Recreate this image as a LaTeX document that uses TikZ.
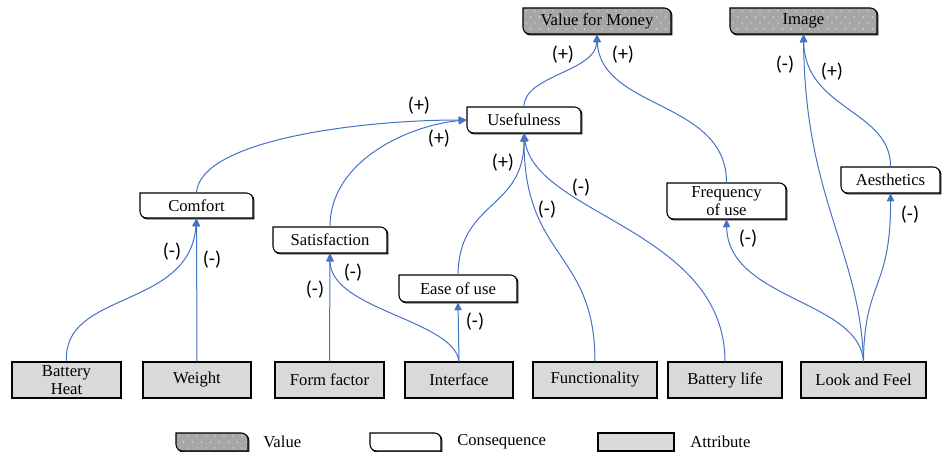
\documentclass[tikz,border=0pt]{standalone}
\usepackage{fontspec}
\setmainfont{Liberation Serif}
\newfontfamily\labfont{Carlito}
\usetikzlibrary{arrows.meta}
\definecolor{linkblue}{HTML}{4472C4}
\definecolor{valgray}{HTML}{A6A6A6}
\definecolor{attgray}{HTML}{D9D9D9}
% rounded top-right and bottom-left corners, coordinates in px
\newcommand\cpath[4]{(#1,#2) -- ({#3-6.667},#2) arc[start angle=90,end angle=0,radius=5pt] -- (#3,#4) -- ({#1+6.667},#4) arc[start angle=270,end angle=180,radius=5pt] -- cycle}
\newcommand\mknode[6]{\node[boxtext, minimum width={(#4-#2)*0.75pt}, minimum height={(#5-#3)*0.75pt}] (#1) at ({(#2+#4)/2},{(#3+#5)/2}) {#6};}
% value box
\newcommand\valbox[6]{%
  \draw[boxline, shift={(0.9,0.9)}] \cpath{#2}{#3}{#4}{#5};
  \fill[valgray] \cpath{#2}{#3}{#4}{#5};
  \begin{scope}
    \clip \cpath{#2}{#3}{#4}{#5};
    \foreach \i in {0,...,17}{\foreach \j in {0,...,4}{%
      \fill[white] ({#2+\i*9+4.5*mod(\j,2)+3},{#3+\j*6+3}) circle[radius=0.45pt];}}
  \end{scope}
  \draw[boxline] \cpath{#2}{#3}{#4}{#5};
  \mknode{#1}{#2}{#3}{#4}{#5}{#6}}
% consequence box
\newcommand\consbox[6]{%
  \draw[boxline, shift={(0.9,0.9)}] \cpath{#2}{#3}{#4}{#5};
  \fill[white] \cpath{#2}{#3}{#4}{#5};
  \draw[boxline] \cpath{#2}{#3}{#4}{#5};
  \mknode{#1}{#2}{#3}{#4}{#5}{#6}}
% attribute box
\newcommand\attbox[6]{%
  \draw[boxline, shift={(0.9,0.9)}] (#2,#3) rectangle (#4,#5);
  \fill[attgray] (#2,#3) rectangle (#4,#5);
  \draw[boxline] (#2,#3) rectangle (#4,#5);
  \mknode{#1}{#2}{#3}{#4}{#5}{#6}}
\begin{document}
\begin{tikzpicture}[x=0.75pt,y=-0.75pt,
  boxtext/.style={inner sep=0pt, align=center, font=\fontsize{12.5}{13.5}\selectfont},
  link/.style={draw=linkblue, line width=0.75pt, -{Triangle[length=6pt,width=5.5pt]}},
  lab/.style={font=\labfont\fontsize{15}{16}\selectfont, inner sep=0pt},
  legtext/.style={font=\fontsize{12.5}{13.5}\selectfont, inner sep=0pt, anchor=west},
  boxline/.style={draw=black, line width=0.8pt}
]
\useasboundingbox (0,0) rectangle (943,452);

% values
\valbox{vfm}{523}{8}{671}{34}{Value for Money}
\valbox{image}{730}{8}{877}{34}{Image}
% consequences
\consbox{useful}{467}{107}{581}{133}{Usefulness}
\consbox{comfort}{140}{193}{253}{218}{Comfort}
\consbox{satis}{273}{227}{387}{253}{Satisfaction}
\consbox{ease}{399}{275}{517}{302}{Ease of use}
\consbox{freq}{667}{183}{786}{219}{Frequency\\of use}
\consbox{aesth}{841}{167}{940}{193}{Aesthetics}
% attributes
\attbox{bheat}{12}{362}{121}{398}{Battery\\Heat}
\attbox{weight}{143}{362}{251}{398}{Weight}
\attbox{form}{275}{362}{384}{398}{Form factor}
\attbox{inter}{405}{362}{513}{398}{Interface}
\attbox{func}{533}{362}{657}{398}{Functionality}
\attbox{blife}{668}{362}{782}{398}{Battery life}
\attbox{look}{801}{362}{926}{398}{Look and Feel}
% legend
\valbox{legval}{176}{433}{248}{451}{}
\consbox{legcons}{370}{433}{441}{451}{}
\attbox{legatt}{598}{433}{674}{451}{}
\node[legtext] (tval) at (263,442) {Value};
\node[legtext] (tcons) at (457,442) {Consequence};
\node[legtext] (tatt) at (690,442) {Attribute};

% connectors
\draw[link] (weight.north) -- (comfort.south);
\draw[link] (bheat.north) .. controls (62,290) and (190,310) .. (comfort.south);
\draw[link] (form.north) -- (satis.south);
\draw[link] (inter.north) .. controls (455,320) and (330,310) .. (satis.south);
\draw[link] (inter.north) -- (ease.south);
\draw[link] (ease.north) .. controls (459,200) and (524,210) .. (useful.south);
\draw[link] (func.north) .. controls (595,250) and (524,260) .. (useful.south);
\draw[link] (blife.north) .. controls (725,230) and (535,215) .. (useful.south);
\draw[link] (comfort.north) .. controls (200,140) and (360,120) .. (useful.west);
\draw[link] (satis.north) .. controls (330,160) and (410,125) .. (useful.west);
\draw[link] (useful.north) .. controls (524,75) and (596,72) .. (vfm.south);
\draw[link] (freq.north) .. controls (727,100) and (600,110) .. (vfm.south);
\draw[link] (look.north) .. controls (860,300) and (728,300) .. (freq.south);
\draw[link] (look.north) .. controls (864,280) and (891,290) .. (aesth.south);
\draw[link] (look.north) .. controls (860,250) and (805,200) .. (image.south);
\draw[link] (aesth.north) .. controls (891,110) and (805,110) .. (image.south);

% labels
\node[lab] (l1) at (563,55) {(+)};
\node[lab] (l2) at (623,55) {(+)};
\node[lab] (l3) at (785,65) {(-)};
\node[lab] (l4) at (832,72) {(+)};
\node[lab] (l5) at (419,106) {(+)};
\node[lab] (l6) at (439,139) {(+)};
\node[lab] (l7) at (503,163) {(+)};
\node[lab] (l8) at (547,210) {(-)};
\node[lab] (l9) at (581,188) {(-)};
\node[lab] (l10) at (748,239) {(-)};
\node[lab] (l11) at (910,215) {(-)};
\node[lab] (l12) at (172,252) {(-)};
\node[lab] (l13) at (212,260) {(-)};
\node[lab] (l14) at (315,290) {(-)};
\node[lab] (l15) at (353,273) {(-)};
\node[lab] (l16) at (475,322) {(-)};
\end{tikzpicture}
\end{document}
